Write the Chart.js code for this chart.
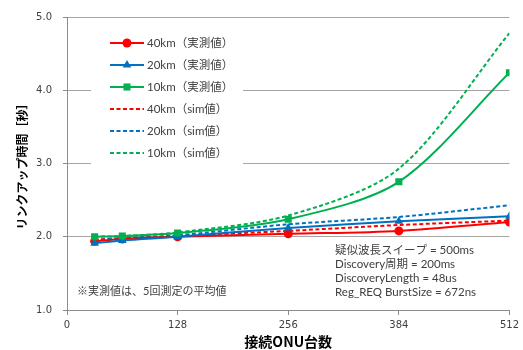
<!DOCTYPE html>
<html>
<head>
<meta charset="utf-8">
<title>リンクアップ時間</title>
<script src="https://cdn.jsdelivr.net/npm/chart.js@4/dist/chart.umd.min.js"></script>
<style>
  html, body { margin: 0; padding: 0; background: #fff; }
  #wrap { width: 523px; height: 350px; position: relative; }
</style>
</head>
<body>
<div id="wrap"><canvas id="c" width="523" height="350"></canvas></div>
<script>
// ONU counts on the horizontal axis
const onuCounts = [32, 64, 128, 256, 384, 512];

// Measured link-up times (seconds)
const meas40km = [1.94, 1.97, 2.00, 2.04, 2.08, 2.20];
const meas20km = [1.91, 1.95, 2.00, 2.12, 2.21, 2.28];
const meas10km = [2.00, 2.01, 2.05, 2.24, 2.75, 4.24];

// Simulated link-up times (seconds)
const sim40km = [1.96, 1.98, 2.01, 2.08, 2.16, 2.22];
const sim20km = [1.95, 1.98, 2.02, 2.17, 2.27, 2.43];
const sim10km = [2.00, 2.01, 2.06, 2.29, 2.93, 4.78];

const seriesLabels = ['40km（実測値）', '20km（実測値）', '10km（実測値）',
                      '40km（sim値）', '20km（sim値）', '10km（sim値）'];

const xTicks = [0, 128, 256, 384, 512];
const yTicks = [1.0, 2.0, 3.0, 4.0, 5.0];

const noteText = '※実測値は、5回測定の平均値';
const paramLines = ['疑似波長スイープ = 500ms', 'Discovery周期 = 200ms',
                    'DiscoveryLength = 48us', 'Reg_REQ BurstSize = 672ns'];

const RED = '#FF0000', BLUE = '#0070C0', GREEN = '#00B050';
const JP = '"Noto Sans CJK JP", "Noto Sans", sans-serif';
const MIX = 'Lato, "Noto Sans CJK JP", sans-serif';
const TICKFONT = '"DejaVu Sans", Verdana, sans-serif';

function pts(vals) { return onuCounts.map((x, i) => ({ x: x, y: vals[i] })); }

function measured(label, vals, color, style, radius, order) {
  return {
    label, data: pts(vals), borderColor: color, backgroundColor: color,
    borderWidth: 2, pointStyle: style, pointRadius: radius,
    pointBorderWidth: 0, tension: 0.3, order
  };
}
function simulated(label, vals, color, order) {
  return {
    label, data: pts(vals), borderColor: color, backgroundColor: color,
    borderWidth: 2, borderDash: [4, 2.5], pointRadius: 0, pointStyle: false,
    tension: 0.3, order
  };
}

// In-plot legend box
const boxLegend = {
  id: 'boxLegend',
  afterDatasetsDraw(chart) {
    const ctx = chart.ctx;
    ctx.save();
    ctx.fillStyle = '#fff';
    ctx.fillRect(91, 28, 152, 140);
    chart.data.datasets.forEach((ds, i) => {
      const y = 43 + i * 22;
      ctx.save();
      ctx.strokeStyle = ds.borderColor;
      ctx.lineWidth = 2;
      ctx.setLineDash(ds.borderDash || []);
      ctx.beginPath();
      ctx.moveTo(110, y);
      ctx.lineTo(144, y);
      ctx.stroke();
      ctx.restore();
      if (ds.pointStyle) {
        ctx.fillStyle = ds.backgroundColor;
        ctx.strokeStyle = ds.borderColor;
        Chart.helpers.drawPoint(ctx, { pointStyle: ds.pointStyle, radius: ds.pointRadius, borderWidth: 0, rotation: 0 }, 127, y);
      }
      ctx.fillStyle = '#404040';
      ctx.font = '11.5px ' + MIX;
      ctx.textBaseline = 'middle';
      ctx.textAlign = 'left';
      ctx.fillText(ds.label, 147, y);
    });
    ctx.restore();
  }
};

// Notes written inside the plot
const notes = {
  id: 'notes',
  afterDraw(chart) {
    const ctx = chart.ctx;
    ctx.save();
    ctx.fillStyle = '#404040';
    ctx.textBaseline = 'middle';
    ctx.textAlign = 'left';
    ctx.font = '11px ' + MIX;
    ctx.fillText(noteText, 77, 291);
    ctx.font = '11.5px ' + MIX;
    paramLines.forEach((t, i) => ctx.fillText(t, 335, 250 + i * 14.2));
    ctx.restore();
  }
};

new Chart(document.getElementById('c'), {
  type: 'line',
  data: {
    datasets: [
      measured(seriesLabels[0], meas40km, RED, 'circle', 4.5, 2),
      measured(seriesLabels[1], meas20km, BLUE, 'triangle', 5, 1),
      measured(seriesLabels[2], meas10km, GREEN, 'rect', 5, 0),
      simulated(seriesLabels[3], sim40km, RED, 5),
      simulated(seriesLabels[4], sim20km, BLUE, 4),
      simulated(seriesLabels[5], sim10km, GREEN, 3)
    ]
  },
  options: {
    responsive: false,
    animation: false,
    layout: { padding: { top: 16, right: 12, left: 0, bottom: 0 } },
    plugins: { legend: { display: false }, tooltip: { enabled: false } },
    scales: {
      x: {
        type: 'linear', min: 0, max: 512,
        afterBuildTicks(s) { s.ticks = xTicks.map(v => ({ value: v })); },
        afterFit(s) { s.height = 40; },
        grid: { drawOnChartArea: false, drawTicks: true, tickLength: 5, color: '#8C8C8C' },
        border: { color: '#8C8C8C', width: 1 },
        ticks: { color: '#404040', font: { family: TICKFONT, size: 10 }, padding: 4, maxRotation: 0 },
        title: { display: true, text: '接続ONU台数', color: '#000',
                 font: { family: JP, size: 14, weight: 'bold', lineHeight: 1.2 },
                 padding: { top: 0, bottom: 0 } }
      },
      y: {
        min: 1, max: 5,
        afterBuildTicks(s) { s.ticks = yTicks.map(v => ({ value: v })); },
        afterFit(s) { s.width = 67; },
        grid: { color: '#A6A6A6', tickLength: 4, tickColor: '#8C8C8C' },
        border: { color: '#8C8C8C', width: 1 },
        ticks: { color: '#404040', font: { family: TICKFONT, size: 10 }, padding: 11,
                 callback: v => Number(v).toFixed(1) },
        title: { display: true, text: 'リンクアップ時間［秒］', color: '#000',
                 font: { family: JP, size: 12, weight: 'bold', lineHeight: 1.2 },
                 padding: { top: 15, bottom: 0 } }
      }
    }
  },
  plugins: [boxLegend, notes]
});
</script>
</body>
</html>
